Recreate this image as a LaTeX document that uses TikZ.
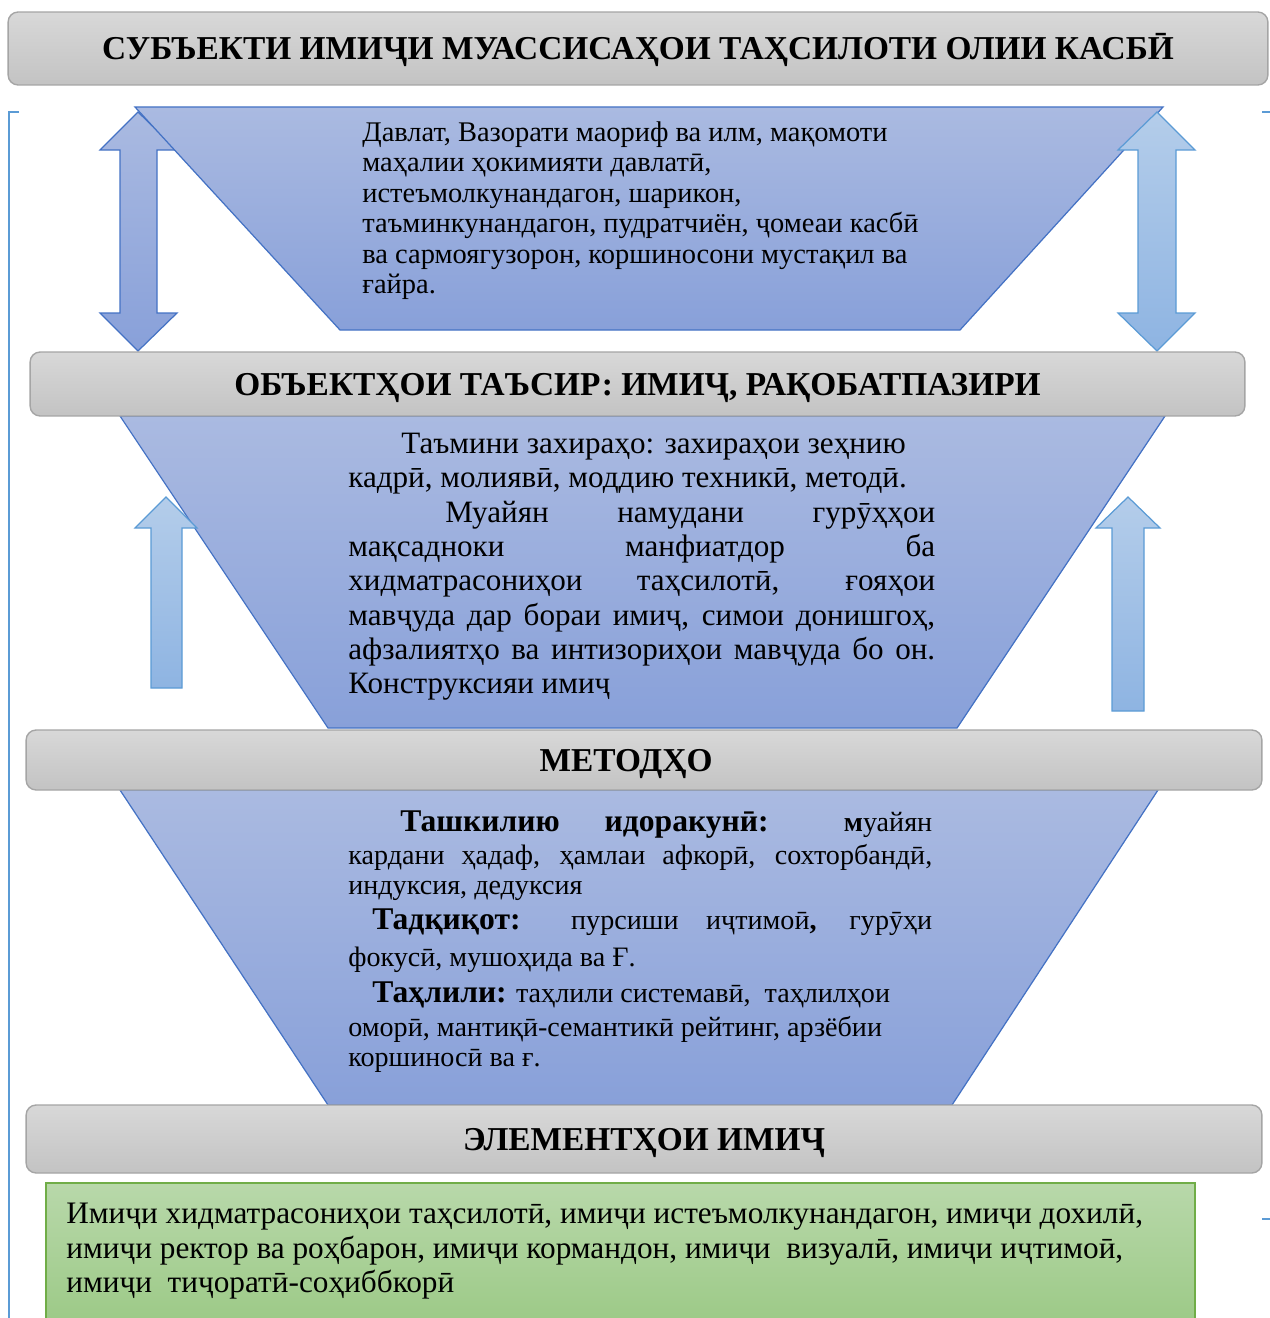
\documentclass[tikz,border=0pt]{standalone}
\usepackage{fontspec}
\setmainfont{Liberation Serif}

\definecolor{barTop}{HTML}{D8D8D8}
\definecolor{barBot}{HTML}{C3C3C3}
\definecolor{barEdge}{HTML}{A5A5A5}
\definecolor{funTop}{HTML}{AABAE1}
\definecolor{funBot}{HTML}{88A0D9}
\definecolor{funEdge}{HTML}{4472C4}
\definecolor{skyTop}{HTML}{B4CDEA}
\definecolor{skyBot}{HTML}{8EB4E2}
\definecolor{skyEdge}{HTML}{5B9BD5}
\definecolor{leafTop}{HTML}{B8D8AA}
\definecolor{leafBot}{HTML}{9BC985}
\definecolor{leafEdge}{HTML}{70AD47}

\tikzstyle{bar} = [rectangle, rounded corners=0.2cm, draw=barEdge, line width=0.8pt, top color=barTop, bottom color=barBot, font=\fontsize{19}{22}\selectfont\bfseries, text=black, text height=12.8pt, text depth=0pt]
\tikzstyle{funnel} = [draw=funEdge, line width=0.7pt, top color=funTop, bottom color=funBot]
\tikzstyle{dblarrow} = [draw=funEdge, line width=0.7pt, top color=funTop, bottom color=funBot]
\tikzstyle{uparrow} = [draw=skyEdge, line width=0.7pt, top color=skyTop, bottom color=skyBot]
\tikzstyle{textblock} = [inner sep=0pt, anchor=north west, align=left, text=black]
\tikzstyle{greenbox} = [draw=leafEdge, line width=0.8pt, top color=leafTop, bottom color=leafBot]
\tikzstyle{bracket} = [draw=skyEdge, line width=0.6pt]

\newcommand{\fullline}[2]{\makebox[#1][s]{#2}}
\newcommand{\headword}[1]{\textbf{\fontsize{18}{21}\selectfont #1}}

\begin{document}
\begin{tikzpicture}[x=0.02cm, y=-0.02cm]
    \clip (0,0) rectangle (1270,1318);

    %Side brackets
    \draw [bracket] (19,112) -- (9,112) -- (9,1330);
    \draw [bracket] (1262,112) -- (1270,112);
    \draw [bracket] (1262,1219) -- (1270,1219);

    %Funnels
    \draw [dblarrow] (138,112) -- (100,150) -- (120,150) -- (120,313) -- (100,313) -- (138,351)
        -- (177,313) -- (157,313) -- (157,150) -- (177,150) -- cycle;
    \draw [funnel] (135,107) -- (1163,107) -- (960,330) -- (340,330) -- cycle;
    \draw [uparrow] (1157,112) -- (1118,150) -- (1138,150) -- (1138,313) -- (1118,313) -- (1157,351)
        -- (1195,313) -- (1176,313) -- (1176,150) -- (1195,150) -- cycle;
    \draw [funnel] (120,416) -- (1165,416) -- (957,728) -- (328,728) -- cycle;
    \draw [funnel] (120,790) -- (1158,790) -- (952,1105) -- (328,1105) -- cycle;

    %Up arrows
    \draw [uparrow] (166,497) -- (135,528) -- (151,528) -- (151,688) -- (182,688) -- (182,528) -- (197,528) -- cycle;
    \draw [uparrow] (1128,497) -- (1096,528) -- (1112,528) -- (1112,711) -- (1144,711) -- (1144,528) -- (1160,528) -- cycle;

    %Main Nodes
    \node (subjects) [bar, minimum width=25.2cm, minimum height=1.46cm] at (638,48.5) {СУБЪЕКТИ ИМИҶИ МУАССИСАҲОИ ТАҲСИЛОТИ ОЛИИ КАСБӢ};
    \node (objects) [bar, minimum width=24.3cm, minimum height=1.28cm] at (637.5,384) {ОБЪЕКТҲОИ ТАЪСИР: ИМИҶ, РАҚОБАТПАЗИРИ};
    \node (methods) [bar, minimum width=24.72cm, minimum height=1.2cm] at (644,760) {};
    \node (methodsTitle) [font=\fontsize{19}{22}\selectfont\bfseries, text height=12.8pt, text depth=0pt] at (626,760) {МЕТОДҲО};
    \node (elements) [bar, minimum width=24.72cm, minimum height=1.36cm] at (644,1139) {ЭЛЕМЕНТҲОИ ИМИҶ};
    \draw [greenbox] (46,1183) rectangle (1195,1330);

    %Text Nodes
    \node (subjectsInfo) [textblock, font=\fontsize{16.2}{17.4}\selectfont] at (362,121) {Давлат, Вазорати маориф ва илм, мақомоти\\
        маҳалии ҳокимияти давлатӣ,\\
        истеъмолкунандагон, шарикон,\\
        таъминкунандагон, пудратчиён, ҷомеаи касбӣ\\
        ва сармоягузорон, коршиносони мустақил ва\\
        ғайра.};
    \node (objectsInfo) [textblock, font=\fontsize{17.7}{19.5}\selectfont] at (348,433) {\hspace*{1.06cm}Таъмини захираҳо: захираҳои зеҳнию\\
        кадрӣ, молиявӣ, моддию техникӣ, методӣ.\\
        \fullline{11.74cm}{\hspace*{1.94cm}Муайян намудани гурӯҳҳои}\\
        \fullline{11.74cm}{мақсадноки манфиатдор ба}\\
        \fullline{11.74cm}{хидматрасониҳои таҳсилотӣ, ғояҳои}\\
        \fullline{11.74cm}{мавҷуда дар бораи имиҷ, симои донишгоҳ,}\\
        \fullline{11.74cm}{афзалиятҳо ва интизориҳои мавҷуда бо он.}\\
        Конструксияи имиҷ};
    \node (methodsInfo) [textblock, font=\fontsize{16}{17}\selectfont] at (348,810) {\fullline{11.68cm}{\hspace*{1.04cm}\headword{Ташкилию идоракунӣ:} \textbf{м}уайян}\\[0.08cm]
        \fullline{11.68cm}{кардани ҳадаф, ҳамлаи афкорӣ, сохторбандӣ,}\\
        индуксия, дедуксия\\[0.1cm]
        \fullline{11.68cm}{\hspace*{0.48cm}\headword{Тадқиқот:} пурсиши иҷтимоӣ\textbf{,} гурӯҳи}\\[0.14cm]
        фокусӣ, мушоҳида ва Ғ.\\[0.12cm]
        \hspace*{0.48cm}\headword{Таҳлили:} таҳлили системавӣ,\ \ таҳлилҳои\\[0.08cm]
        оморӣ, мантиқӣ-семантикӣ рейтинг, арзёбии\\
        коршиносӣ ва ғ.};
    \node (elementsInfo) [textblock, font=\fontsize{17.8}{19.6}\selectfont] at (66,1203) {Имиҷи хидматрасониҳои таҳсилотӣ, имиҷи истеъмолкунандагон, имиҷи дохилӣ,\\
        имиҷи ректор ва роҳбарон, имиҷи кормандон, имиҷи\ \ визуалӣ, имиҷи иҷтимоӣ,\\
        имиҷи\ \ тиҷоратӣ-соҳиббкорӣ};
\end{tikzpicture}
\end{document}
